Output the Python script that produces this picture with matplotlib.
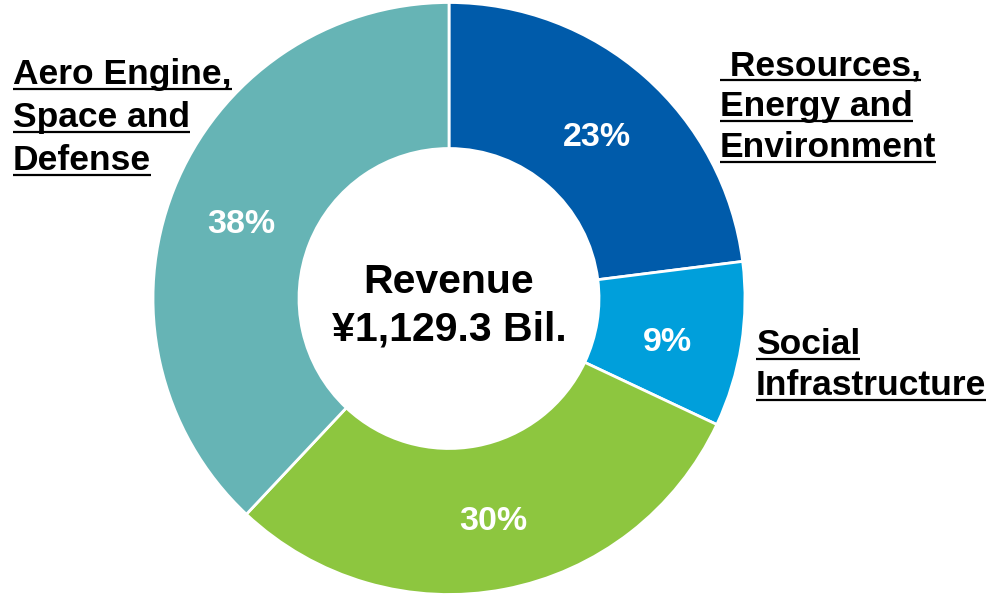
import matplotlib
matplotlib.use("Agg")
import matplotlib.pyplot as plt

plt.rcParams['font.family'] = ['Liberation Sans', 'DejaVu Sans']

# data
segments = ['Resources, Energy and Environment', 'Social Infrastructure',
            'Civil Aero Engine', 'Aero Engine, Space and Defense']
shares = [23, 9, 30, 38]
pct_labels = ['23%', '9%', '30%', '38%']
colors = ['#005BAA', '#009FDB', '#8DC63F', '#66B4B5']
center_text = ['Revenue', '¥1,129.3 Bil.']

W, H = 987, 598
fig = plt.figure(figsize=(W / 100, H / 100), dpi=100)
ax = fig.add_axes([0, 0, 1, 1])

cx, cy = 449, H - 298.5
R = 296
w = 146

ax.pie(shares, colors=colors, startangle=90, counterclock=False,
       center=(cx, cy), radius=R, frame=True,
       wedgeprops=dict(width=w, edgecolor='white', linewidth=2))
ax.set_xlim(0, W)
ax.set_ylim(0, H)
ax.set_aspect('equal')
ax.axis('off')

# percentage labels (pixel positions)
pct_pos = [(597, 137), (667, 342), (493, 522), (241, 224)]
for t, (px, py) in zip(pct_labels, pct_pos):
    ax.text(px, H - py, t, ha='center', va='center', color='white',
            fontsize=24.5, fontweight='bold')

ax.text(cx, H - 282, center_text[0], ha='center', va='center',
        fontsize=29.5, fontweight='bold', color='black')
ax.text(cx, H - 329, center_text[1], ha='center', va='center',
        fontsize=29.5, fontweight='bold', color='black')

# category labels, one text per line so each line can be underlined
label_lines = [
    (13, [84, 127, 170], ['Aero Engine,', 'Space and', 'Defense']),
    (720, [75, 116, 157], [' Resources,', 'Energy and', 'Environment']),
    (756, [354, 395], ['Social', 'Infrastructure']),
]

texts = []
for x0, ys, lines in label_lines:
    for y, s in zip(ys, lines):
        t = ax.text(x0, H - y, s, ha='left', va='baseline', fontsize=25.5,
                    fontweight='bold', color='black')
        texts.append((t, H - y))

fig.canvas.draw()
renderer = fig.canvas.get_renderer()
inv = ax.transData.inverted()
for t, yb in texts:
    bb = t.get_window_extent(renderer=renderer)
    x_left = inv.transform((bb.x0, 0))[0]
    x_right = inv.transform((bb.x1, 0))[0]
    ax.plot([x_left, x_right], [yb - 4.5, yb - 4.5], color='black', lw=1.6,
            solid_capstyle='butt')

fig.savefig('out.png', dpi=100)
